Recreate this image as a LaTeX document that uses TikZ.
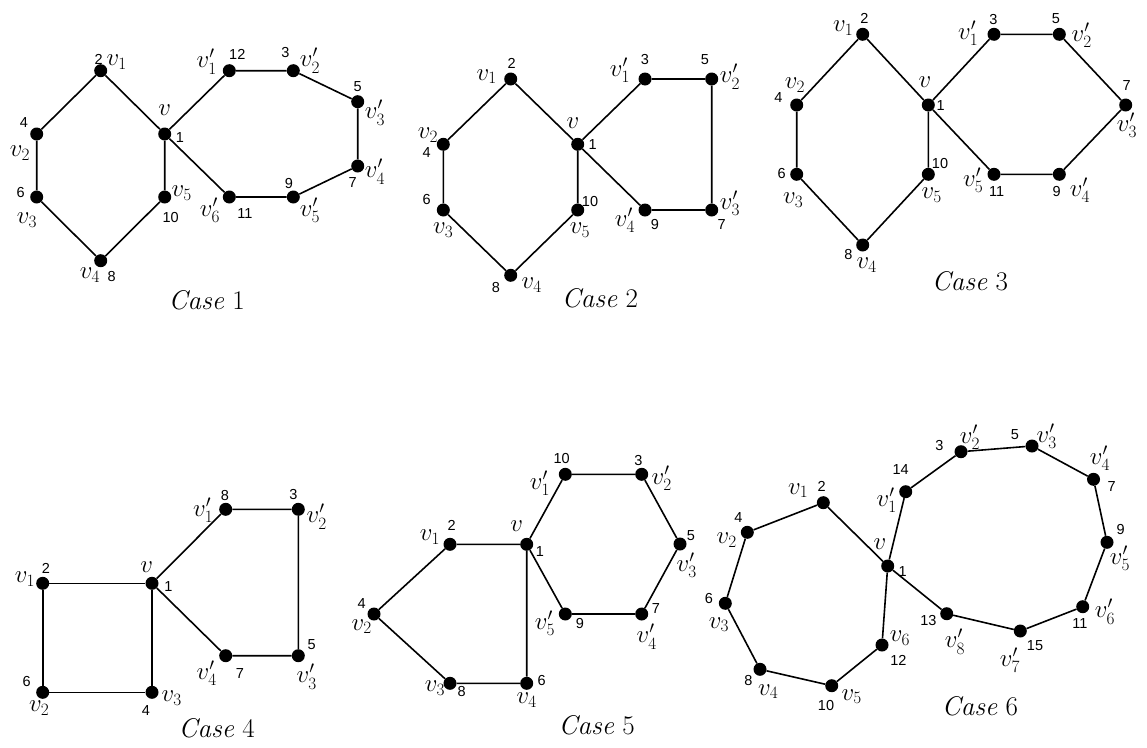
\documentclass[tikz,border=0pt]{standalone}
\usepackage{fontspec}
\newfontfamily\numfont{Liberation Sans}
\newcount\lbcnt
\tikzset{
  dot/.style={circle,fill=black,inner sep=0pt,minimum size=13pt},
  edge/.style={line width=1.6pt},
  lbl/.style={inner sep=0pt,font=\fontsize{24}{26}\selectfont},
  num/.style={inner sep=0pt,font=\numfont\fontsize{14.5}{16}\selectfont},
  casetxt/.style={inner sep=0pt,font=\fontsize{27}{30}\selectfont}
}
\newcommand{\Vx}[3]{\node[dot] (#1) at (#2,#3) {};}
\newcommand{\Lb}[3]{\global\advance\lbcnt by 1\relax\node[lbl] (lab\the\lbcnt) at (#1,#2) {$#3$};}
\newcommand{\Nm}[3]{\global\advance\lbcnt by 1\relax\node[num] (lab\the\lbcnt) at (#1,#2) {#3};}
\begin{document}
\begin{tikzpicture}[x=1pt,y=-1pt]
\useasboundingbox (0,0) rectangle (1147,747);
% ---------------- Case 1
\Vx{a0}{164.7}{134}
\Vx{a1}{100.7}{70.7}
\Vx{a2}{36.7}{134}
\Vx{a3}{36.7}{197}
\Vx{a4}{100.7}{260.7}
\Vx{a5}{164.7}{197}
\Vx{aw1}{229.3}{70.7}
\Vx{aw2}{293.3}{70.7}
\Vx{aw3}{357.7}{101.7}
\Vx{aw4}{357.7}{166}
\Vx{aw5}{293.3}{197}
\Vx{aw6}{229.3}{197}
\draw[edge] (a0)--(a1)--(a2)--(a3)--(a4)--(a5)--(a0);
\draw[edge] (a0)--(aw1)--(aw2)--(aw3)--(aw4)--(aw5)--(aw6)--(a0);
\Nm{98.7}{59}{2}\Lb{116.7}{62}{v_1}
\Nm{24}{123}{4}\Lb{20}{153}{v_2}
\Nm{20.7}{192.7}{6}\Lb{27}{220}{v_3}
\Lb{90}{275}{v_4}\Nm{111.7}{277}{8}
\Lb{164.7}{110}{v}\Nm{180}{138}{1}
\Lb{181.7}{193}{v_5}\Nm{170.7}{218}{10}
\Lb{206.7}{61.7}{v'_1}\Nm{237.3}{54}{12}
\Nm{285.3}{53}{3}\Lb{310}{60.7}{v'_2}
\Nm{357.7}{86.7}{5}\Lb{375}{112.7}{v'_3}
\Lb{375}{171.7}{v'_4}\Nm{352.7}{183}{7}
\Nm{289}{184}{9}\Lb{310}{210}{v'_5}
\Lb{210}{210}{v'_6}\Nm{245}{214}{11}
\node[casetxt] (case1) at (206.7,300) {\textit{Case} 1};
% ---------------- Case 2
\Vx{b0}{577.7}{144.3}
\Vx{b1}{510.7}{79}
\Vx{b2}{443.3}{144.3}
\Vx{b3}{443.3}{210}
\Vx{b4}{510.7}{275.3}
\Vx{b5}{577.7}{210}
\Vx{bw1}{645}{79}
\Vx{bw2}{711.7}{79}
\Vx{bw3}{711.7}{210}
\Vx{bw4}{645}{210}
\draw[edge] (b0)--(b1)--(b2)--(b3)--(b4)--(b5)--(b0);
\draw[edge] (b0)--(bw1)--(bw2)--(bw3)--(bw4)--(b0);
\Nm{511.7}{63}{2}\Lb{486.7}{76.7}{v_1}
\Lb{428}{135}{v_2}\Nm{426.7}{153}{4}
\Nm{426.7}{200}{6}\Lb{443.3}{230}{v_3}
\Nm{496}{288}{8}\Lb{531.7}{285}{v_4}
\Lb{573}{123}{v}\Nm{592.7}{145}{1}
\Nm{590}{201.7}{10}\Lb{580}{230}{v_5}
\Lb{620}{70}{v'_1}\Nm{645}{60}{3}
\Nm{705}{59.3}{5}\Lb{730}{76.7}{v'_2}
\Lb{730}{203.3}{v'_3}\Nm{721.7}{224.3}{7}
\Lb{625}{220}{v'_4}\Nm{655}{224.3}{9}
\node[casetxt] (case2) at (600,298) {\textit{Case} 2};
% ---------------- Case 3
\Vx{c0}{928.3}{105}
\Vx{c1}{862.7}{34.3}
\Vx{c2}{796.7}{105}
\Vx{c3}{796.7}{174.3}
\Vx{c4}{862.7}{245}
\Vx{c5}{928.3}{174.3}
\Vx{cw1}{994}{34.3}
\Vx{cw2}{1059.3}{34.3}
\Vx{cw3}{1125.7}{105}
\Vx{cw4}{1059.3}{174.3}
\Vx{cw5}{994}{174.3}
\draw[edge] (c0)--(c1)--(c2)--(c3)--(c4)--(c5)--(c0);
\draw[edge] (c0)--(cw1)--(cw2)--(cw3)--(cw4)--(cw5)--(c0);
\Lb{843.3}{28.3}{v_1}\Nm{864.3}{18.3}{2}
\Lb{795}{85}{v_2}\Nm{778.3}{97.3}{4}
\Nm{781.7}{174}{6}\Lb{793.3}{200}{v_3}
\Nm{848.3}{255}{8}\Lb{866.7}{265}{v_4}
\Lb{925}{81.7}{v}\Nm{940.7}{106}{1}
\Nm{940}{163.3}{10}\Lb{931.7}{195}{v_5}
\Lb{968.3}{33.3}{v'_1}\Nm{993.3}{20}{3}
\Nm{1056}{18.3}{5}\Lb{1081.7}{35}{v'_2}
\Nm{1126.7}{86}{7}\Lb{1127}{125}{v'_3}
\Nm{1056.7}{191.7}{9}\Lb{1080}{190}{v'_4}
\Lb{973.3}{180}{v'_5}\Nm{996.7}{191.7}{11}
\node[casetxt] (case3) at (970,281.7) {\textit{Case} 3};
% ---------------- Case 4
\Vx{d0}{152}{583.3}
\Vx{d1}{42.7}{583.3}
\Vx{d2}{42.7}{692.3}
\Vx{d3}{152}{692.3}
\Vx{dw1}{225.7}{509.3}
\Vx{dw2}{298.3}{509.3}
\Vx{dw3}{298.3}{655.7}
\Vx{dw4}{225.7}{655.7}
\draw[edge] (d0)--(d1)--(d2)--(d3)--(d0);
\draw[edge] (d0)--(dw1)--(dw2)--(dw3)--(dw4)--(d0);
\Nm{46}{568.3}{2}\Lb{25}{579.3}{v_1}
\Nm{26.7}{681.7}{6}\Lb{39.3}{708.3}{v_2}
\Nm{146}{710}{4}\Lb{171.7}{698.3}{v_3}
\Lb{146.7}{567.3}{v}\Nm{168.3}{586.7}{1}
\Lb{203.3}{510}{v'_1}\Nm{225}{495}{8}
\Nm{293.3}{494}{3}\Lb{316.7}{516.7}{v'_2}
\Nm{311.7}{645}{5}\Lb{306.7}{676.7}{v'_3}
\Lb{206.7}{673.3}{v'_4}\Nm{240}{673.3}{7}
\node[casetxt] (case4) at (216.7,728) {\textit{Case} 4};
% ---------------- Case 5
\Vx{e0}{526.7}{544.3}
\Vx{e1}{450}{544.3}
\Vx{e2}{374}{614}
\Vx{e3}{450}{683.3}
\Vx{e4}{526.7}{683.3}
\Vx{ew1}{565.3}{474.3}
\Vx{ew2}{641.7}{474.3}
\Vx{ew3}{680}{544}
\Vx{ew4}{641.7}{614}
\Vx{ew5}{565.3}{614}
\draw[edge] (e0)--(e1)--(e2)--(e3)--(e4)--(e0);
\draw[edge] (e0)--(ew1)--(ew2)--(ew3)--(ew4)--(ew5)--(e0);
\Lb{430}{537.3}{v_1}\Nm{451.7}{525}{2}
\Lb{516.7}{526}{v}\Nm{540}{551.7}{1}
\Nm{361.7}{603.3}{4}\Lb{361.7}{626.7}{v_2}
\Lb{435}{688.3}{v_3}\Nm{461.7}{691.7}{8}
\Nm{541.7}{680}{6}\Lb{526.7}{700}{v_4}
\Lb{540}{483.3}{v'_1}\Nm{561.7}{458.3}{10}
\Nm{638.3}{460}{3}\Lb{661.7}{478.3}{v'_2}
\Nm{691}{536}{5}\Lb{686.7}{565}{v'_3}
\Lb{646.7}{636.7}{v'_4}\Nm{656}{609}{7}
\Lb{545}{623.3}{v'_5}\Nm{580}{623.3}{9}
\node[casetxt] (case5) at (596.7,725) {\textit{Case} 5};
% ---------------- Case 6
\Vx{f0}{887.7}{566}
\Vx{f1}{823.3}{502.7}
\Vx{f2}{747.3}{532.3}
\Vx{f3}{725.3}{603.3}
\Vx{f4}{760}{669.3}
\Vx{f5}{831.7}{685.7}
\Vx{f6}{882}{645}
\Vx{fw1}{905.7}{491.7}
\Vx{fw2}{961}{451.7}
\Vx{fw3}{1032}{446}
\Vx{fw4}{1093.5}{479.3}
\Vx{fw5}{1107}{542.3}
\Vx{fw6}{1082.7}{606.7}
\Vx{fw7}{1020.3}{631}
\Vx{fw8}{946.7}{613.7}
\draw[edge] (f0)--(f1)--(f2)--(f3)--(f4)--(f5)--(f6)--(f0);
\draw[edge] (f0)--(fw1)--(fw2)--(fw3)--(fw4)--(fw5)--(fw6)--(fw7)--(fw8)--(f0);
\Lb{798.3}{490.7}{v_1}\Nm{821.7}{486.7}{2}
\Nm{738.3}{517.3}{4}\Lb{726.7}{540}{v_2}
\Nm{709}{598.5}{6}\Lb{719}{624.5}{v_3}
\Nm{748.3}{680.7}{8}\Lb{768.3}{691.7}{v_4}
\Nm{826}{705.7}{10}\Lb{851.7}{696.7}{v_5}
\Lb{900}{638.3}{v_6}\Nm{898.3}{660}{12}
\Lb{880}{544}{v}\Nm{902.7}{571.7}{1}
\Nm{900.7}{470}{14}\Lb{886.7}{500}{v'_1}
\Nm{939.3}{445}{3}\Lb{970}{437}{v'_2}
\Nm{1015}{435}{5}\Lb{1046.7}{436}{v'_3}
\Lb{1100}{458}{v'_4}\Nm{1111.7}{486.7}{7}
\Nm{1120.7}{529.3}{9}\Lb{1120}{558.3}{v'_5}
\Lb{1105}{611.7}{v'_6}\Nm{1080}{623.3}{11}
\Nm{1035}{646}{15}\Lb{1010}{660}{v'_7}
\Nm{928.3}{620.7}{13}\Lb{955}{641.7}{v'_8}
\node[casetxt] (case6) at (980,706.7) {\textit{Case} 6};
\end{tikzpicture}
\end{document}
